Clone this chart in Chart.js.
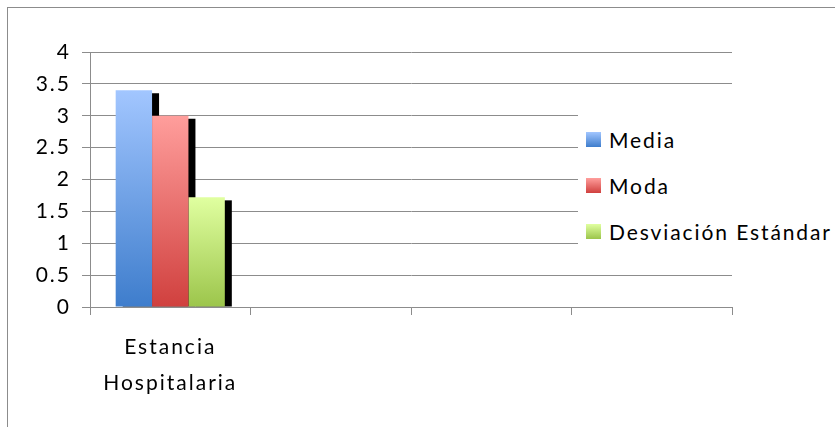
<!DOCTYPE html>
<html>
<head>
<meta charset="utf-8">
<script src="https://cdn.jsdelivr.net/npm/chart.js@4"></script>
<style>
  html, body { margin: 0; padding: 0; background: #fff; }
  #wrap { position: relative; width: 835px; height: 427px; overflow: hidden; }
  #frame { position: absolute; left: 7px; top: 7px; width: 900px; height: 500px;
           border-top: 1px solid #8c8c8c; border-left: 1px solid #8c8c8c; }
  #legend { position: absolute; left: 578px; top: 104px; width: 257px; height: 150px;
            background: #fff; font-family: Lato, sans-serif; font-size: 21px; color: #000; }
  .item { position: absolute; left: 8px; height: 24px; line-height: 24px; white-space: nowrap;
          letter-spacing: 1.9px; }
  .box { position: absolute; left: 0; top: 4px; width: 15px; height: 15px; }
  .item span { position: absolute; left: 23px; top: 0; }
</style>
</head>
<body>
<div id="wrap">
  <div id="frame"></div>
  <canvas id="myChart" width="835" height="427"></canvas>
  <div id="legend"></div>
</div>
<script>
// categories and series
const categories = [['Estancia', 'Hospitalaria'], '', '', ''];
const seriesNames = ['Media', 'Moda', 'Desviación Estándar'];
const media = [3.4, null, null, null];
const moda = [3.0, null, null, null];
const desviacion = [1.72, null, null, null];
const yTicks = [0, 0.5, 1, 1.5, 2, 2.5, 3, 3.5, 4];

// top / bottom colours of each bar gradient
const shades = [
  ['#a2c6ff', '#3e7dcc'],
  ['#ff9e9c', '#d0403e'],
  ['#e0ffa0', '#9cc54b']
];

function barGradient(c, top, bottom) {
  const chart = c.chart;
  if (!chart.chartArea || c.type !== 'data' || c.raw == null) return bottom;
  const y = chart.scales.y;
  const g = chart.ctx.createLinearGradient(0, y.getPixelForValue(c.raw), 0, y.getPixelForValue(0));
  g.addColorStop(0, top);
  g.addColorStop(1, bottom);
  return g;
}

// black drop shadow behind each bar, plus wider letter spacing for axis text
const barShadow = {
  id: 'barShadow',
  beforeDraw(chart) {
    chart.ctx.letterSpacing = '2px';
  },
  beforeDatasetsDraw(chart) {
    const ctx = chart.ctx;
    ctx.save();
    ctx.fillStyle = '#000';
    chart.getSortedVisibleDatasetMetas().forEach(meta => {
      const data = chart.data.datasets[meta.index].data;
      meta.data.forEach((el, j) => {
        if (data[j] == null) return;
        const p = el.getProps(['x', 'y', 'base', 'width'], true);
        ctx.fillRect(p.x - p.width / 2 + 7, p.y + 3, p.width, p.base - p.y - 3);
      });
    });
    ctx.restore();
  }
};

const values = [media, moda, desviacion];
const datasets = seriesNames.map((name, i) => ({
  label: name,
  data: values[i],
  backgroundColor: c => barGradient(c, shades[i][0], shades[i][1]),
  borderWidth: 0,
  categoryPercentage: 0.68,
  barPercentage: 1.0
}));

const gridGray = '#8c8c8c';

new Chart(document.getElementById('myChart'), {
  type: 'bar',
  data: { labels: categories, datasets: datasets },
  plugins: [barShadow],
  options: {
    responsive: false,
    animation: false,
    events: [],
    layout: { padding: { left: 0, right: 103, top: 52, bottom: 0 } },
    plugins: { legend: { display: false }, tooltip: { enabled: false } },
    scales: {
      x: {
        offset: true,
        grid: { offset: true, drawOnChartArea: false, drawTicks: true, tickLength: 8, color: gridGray },
        border: { color: gridGray },
        ticks: { color: '#000', font: { family: 'Lato', size: 21, lineHeight: '36px' }, padding: 14, maxRotation: 0, autoSkip: false },
        afterFit: s => { s.height = 120; }
      },
      y: {
        min: 0,
        max: 4,
        afterBuildTicks: s => { s.ticks = yTicks.map(v => ({ value: v })); },
        grid: { color: gridGray, tickLength: 8 },
        border: { color: gridGray },
        ticks: { color: '#000', font: { family: 'Lato', size: 21 }, padding: 11, callback: v => String(v) },
        afterFit: s => { s.width = 90; }
      }
    }
  }
});

// legend built from the same series
const legend = document.getElementById('legend');
seriesNames.forEach((name, i) => {
  const item = document.createElement('div');
  item.className = 'item';
  item.style.top = (24 + i * 46) + 'px';
  const box = document.createElement('div');
  box.className = 'box';
  box.style.background = 'linear-gradient(' + shades[i][0] + ',' + shades[i][1] + ')';
  const text = document.createElement('span');
  text.textContent = name;
  item.appendChild(box);
  item.appendChild(text);
  legend.appendChild(item);
});
</script>
</body>
</html>
